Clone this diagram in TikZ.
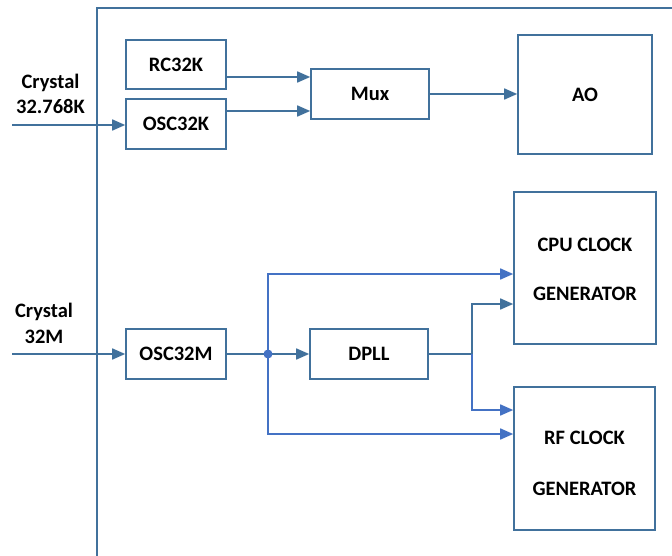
\documentclass[tikz,border=0pt]{standalone}
\usepackage{fontspec}
\setmainfont{Carlito}
\usetikzlibrary{arrows.meta}
\definecolor{boxc}{HTML}{41719C}
\definecolor{linec}{HTML}{4472C4}
\begin{document}
\begin{tikzpicture}[x=1pt,y=-1pt,
  every node/.style={font=\fontsize{20.5}{24}\selectfont\bfseries},
  blk/.style={draw=boxc, line width=1.6pt, inner sep=0pt, fill=white},
  arr/.style={line width=1.6pt, -{Triangle[length=13pt,width=11pt]}},
  lbl/.style={anchor=base, inner sep=0pt}
]
\useasboundingbox (0,0) rectangle (672,556);
% outer frame
\draw[boxc, line width=1.6pt] (97,556) -- (97,8) -- (672,8);
% blocks
\node[blk, minimum width=100pt, minimum height=49pt] (rc) at (176,64.5) {RC32K};
\node[blk, minimum width=100pt, minimum height=50pt] (osck) at (176,124) {OSC32K};
\node[blk, minimum width=118pt, minimum height=50pt] (mux) at (370,94) {Mux};
\node[blk, minimum width=134pt, minimum height=119pt] (ao) at (585,94.5) {AO};
\node[blk, minimum width=100pt, minimum height=50pt] (oscm) at (176,354) {OSC32M};
\node[blk, minimum width=118pt, minimum height=50pt] (dpll) at (369,354) {DPLL};
\node[blk, minimum width=142pt, minimum height=152pt] (cpu) at (585,268) {};
\node[blk, minimum width=141pt, minimum height=143pt] (rf) at (584.5,458.5) {};
% texts
\node[lbl] (t1) at (585,251.5) {CPU CLOCK};
\node[lbl] (t2) at (585,300.5) {GENERATOR};
\node[lbl] (t3) at (584.5,444.5) {RF CLOCK};
\node[lbl] (t4) at (584.5,495.5) {GENERATOR};
\node[lbl] (x1) at (50.5,88.5) {Crystal};
\node[lbl] (x2) at (50.5,113.5) {32.768K};
\node[lbl] (x3) at (44,317.5) {Crystal};
\node[lbl] (x4) at (44,343.5) {32M};
% input coordinates
\coordinate (c1) at (12,125);
\coordinate (c2) at (12,354);
\coordinate (j) at (268,354);
\coordinate (k) at (472,354);
% connectors
\draw[arr, boxc] (c1) -- (osck.west |- c1);
\draw[arr, boxc] (c2) -- (oscm.west |- c2);
\draw[arr, boxc] (rc.east |- 0,77) -- (mux.west |- 0,77);
\draw[arr, boxc] (osck.east |- 0,111) -- (mux.west |- 0,111);
\draw[arr, boxc] (mux.east) -- (ao.west |- mux.east);
\draw[boxc, line width=1.6pt] (oscm.east) -- (j);
\draw[arr, boxc] (j) -- (dpll.west);
\draw[arr, linec] (j) |- (cpu.west |- 0,274);
\draw[arr, linec] (j) |- (rf.west |- 0,434);
\fill[linec] (j) circle (4.5pt);
\draw[boxc, line width=1.6pt] (dpll.east) -- (k);
\draw[arr, boxc] (k) |- (cpu.west |- 0,304);
\draw[arr, linec] (k) |- (rf.west |- 0,410);
\end{tikzpicture}
\end{document}
